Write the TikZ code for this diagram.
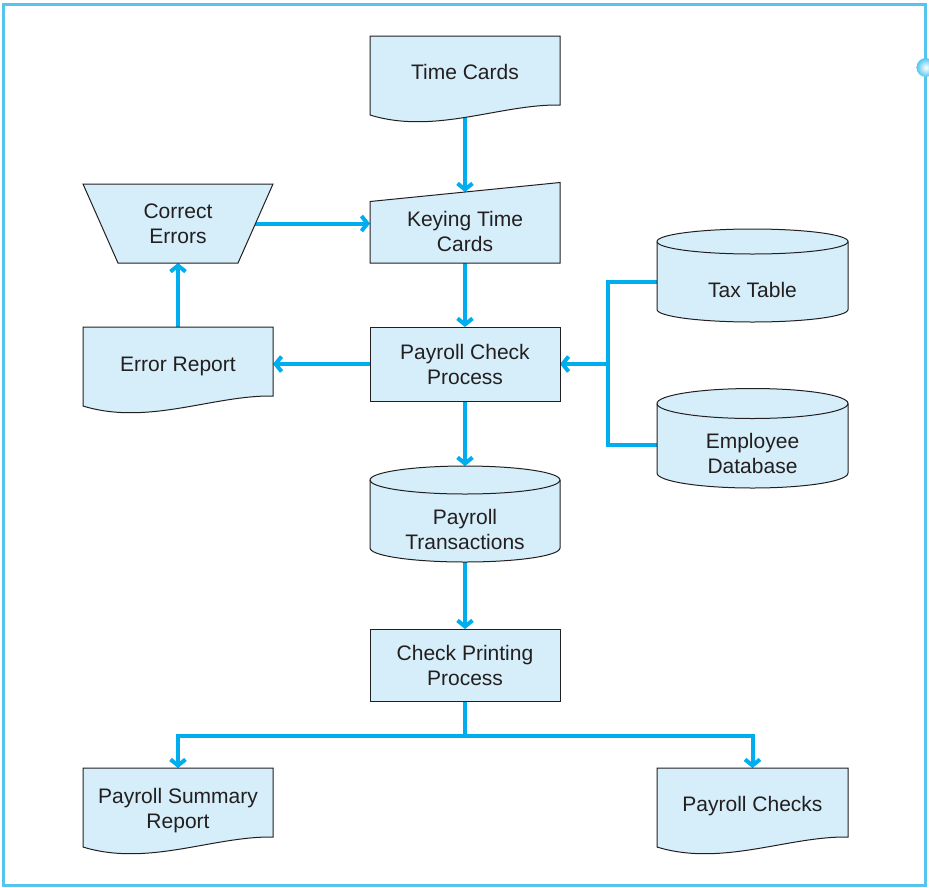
\documentclass[tikz,border=0pt]{standalone}
\usepackage{fontspec}
\setmainfont{Liberation Sans}
\usetikzlibrary{arrows.meta,calc}

\definecolor{flowblue}{HTML}{00AEEF}
\definecolor{boxfill}{HTML}{D5EEFA}
\definecolor{inkgray}{HTML}{231F20}
\definecolor{framecyan}{HTML}{55C5F0}

\pgfdeclarelayer{wires}
\pgfdeclarelayer{bodies}
\pgfsetlayers{wires,bodies,main}

\tikzset{
  chartext/.style={font=\fontsize{21}{25}\selectfont, text=inkgray, align=center,
    inner sep=0pt, outer sep=0pt},
  textslot/.style={chartext, minimum width=190pt},
  procbox/.style={chartext, draw=inkgray, fill=boxfill, line width=0.8pt, minimum width=190pt},
  bodyline/.style={draw=inkgray, fill=boxfill, line width=1pt, line join=miter},
  wireline/.style={draw=flowblue, line width=4pt},
  flowarrow/.style={wireline, -{Straight Barb[length=6pt,width=15pt]}},
}

% document symbol with a wavy lower edge, hung from the node's top edge
\newcommand\docbody[1]{%
  \filldraw[bodyline] (#1.north west) -- ($(#1.north west)+(0,79)$)
    .. controls ($(#1.north west)+(65,99)$) and ($(#1.north east)+(-60,68)$)
    .. ($(#1.north east)+(0,69)$) -- (#1.north east) -- cycle;}

% disk storage symbol: name, x radius, y radius, side length
\newcommand\cylbody[4]{%
  \filldraw[bodyline] ($(#1.north west)+(0,-#3)$) -- ($(#1.north west)+(0,#4-#3)$)
    arc[start angle=180,end angle=360,x radius=#2pt,y radius=#3pt]
    -- ($(#1.north east)+(0,-#3)$)
    arc[start angle=0,end angle=180,x radius=#2pt,y radius=#3pt] -- cycle;
  \draw[bodyline, fill=none] ($(#1.north west)+(0,-#3)$)
    arc[start angle=180,end angle=360,x radius=#2pt,y radius=#3pt];}

\begin{document}
\begin{tikzpicture}[x=1pt,y=-1pt]
\useasboundingbox (0,0) rectangle (929,887);

% outer frame
\draw[framecyan, line width=3pt] (3,4) rectangle (925.5,885);
\shade[inner color=white, outer color=framecyan] (926,67.5) circle[radius=9.5pt];

% labelled nodes
\node[textslot, minimum height=71.4pt] (tc) at (465,71.7) {Time Cards};
\node[textslot, minimum height=64pt] (key) at (465,231) {Keying Time\\Cards};
\node[textslot, minimum height=79pt] (ce) at (178,223.5) {Correct\\Errors};
\node[textslot, minimum height=78pt] (er) at (178,366) {Error Report};
\node[procbox, minimum height=74pt] (pcp) at (465,364) {Payroll Check\\Process};
\node[textslot, minimum width=191pt, minimum height=72pt] (tt) at (752.5,290) {Tax Table};
\node[textslot, minimum width=191pt, minimum height=69pt] (ed) at (752.5,453) {Employee\\Database};
\node[textslot, minimum height=70.6pt] (pt) at (465,529.3) {Payroll\\Transactions};
\node[procbox, minimum height=72pt] (cpp) at (465,665) {Check Printing\\Process};
\node[textslot, minimum height=85pt] (ps) at (178,810.5) {Payroll Summary\\Report};
\node[textslot, minimum width=191pt, minimum height=76.6pt] (pc) at (752.5,806.3) {Payroll Checks};

% symbol outlines behind the labels
\begin{pgfonlayer}{bodies}
  \docbody{tc}
  \docbody{er}
  \docbody{ps}
  \docbody{pc}
  \filldraw[bodyline] (key.south west) -- ($(key.north west)+(0,2.5)$)
    -- ($(key.north east)+(0,-16.5)$) -- (key.south east) -- cycle;
  \filldraw[bodyline] (ce.north west) -- (ce.north east)
    -- ($(ce.south east)+(-35,0)$) -- ($(ce.south west)+(35,0)$) -- cycle;
  \cylbody{tt}{95.5}{12.5}{68}
  \cylbody{ed}{95.5}{15}{69.5}
  \cylbody{pt}{95}{14}{68}
\end{pgfonlayer}

% flow lines, each starting hidden behind its source symbol
\begin{pgfonlayer}{wires}
  \draw[flowarrow, shorten >=7pt] (tc.center) -- (key.north);
  \draw[flowarrow] (key.center) -- (pcp.north);
  \draw[flowarrow] (pcp.west) -- (pcp.west -| er.east);
  \draw[flowarrow] (er.center) -- (ce.south);
  \draw[flowarrow] (ce.center) -- (ce.center -| key.west);
  \coordinate (jn) at ([xshift=47.5pt]pcp.east);
  \draw[flowarrow] ([yshift=8pt]tt.west) -| (jn) -- (pcp.east);
  \draw[wireline] ([yshift=8pt]ed.west) -| (jn);
  \draw[flowarrow] (pcp.center) -- ([yshift=28pt]pt.north);
  \draw[flowarrow] (pt.center) -- (cpp.north);
  \coordinate (fork) at ([yshift=-35pt]cpp.south);
  \draw[flowarrow] (cpp.center) -- (fork) -| (ps.north);
  \draw[flowarrow] (fork) -| (pc.north);
\end{pgfonlayer}
\end{tikzpicture}
\end{document}
